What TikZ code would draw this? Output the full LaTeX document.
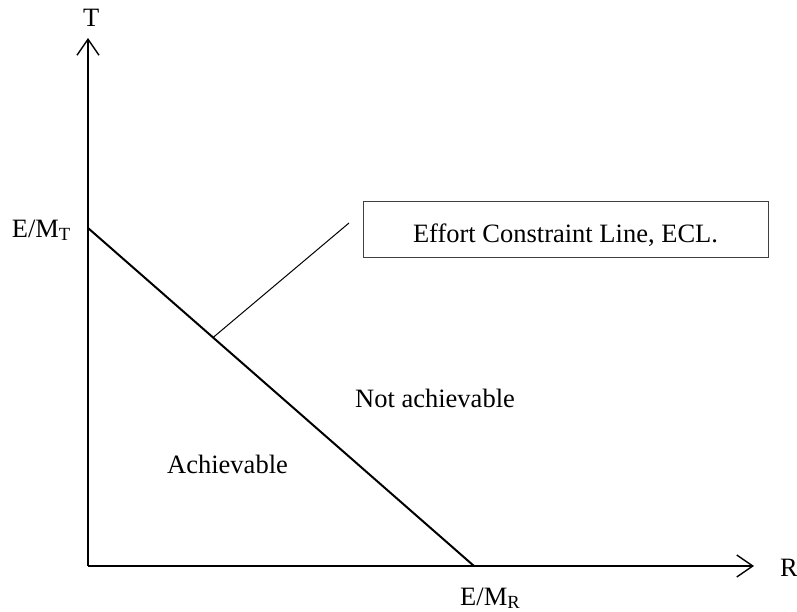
\documentclass[tikz,border=0pt]{standalone}
\usepackage{fontspec}
\setmainfont{Liberation Serif}
\usetikzlibrary{arrows.meta,calc}
\begin{document}
\begin{tikzpicture}[x=1pt,y=-1pt,
  lbl/.style={font=\fontsize{26.5}{30}\selectfont, inner sep=0pt},
  axis/.style={line width=1.6pt, -{Straight Barb[length=16pt,width=22pt,line width=1.4pt]}},
  ecl/.style={line width=2pt},
  leader/.style={line width=1pt},
  box/.style={draw=black!75, line width=1pt, minimum width=405pt, minimum height=55pt, inner sep=0pt, text height=27pt, text depth=0pt, font=\fontsize{26.5}{30}\selectfont}
  ]
\useasboundingbox (0,0) rectangle (797,612);
\coordinate (O) at (88,566);
\coordinate (ytip) at (88,38);
\coordinate (xtip) at (754,566);
\coordinate (A) at (88,228);
\coordinate (B) at (474,566);
\coordinate (L) at ($(A)!0.324!(B)$);
\coordinate (Lend) at (349,223);
\draw[axis] (O) -- (ytip);
\draw[axis] (O) -- (xtip);
\draw[ecl] (A) -- (B);
\node[box, anchor=base] (eclbox) at (565.5,243) {Effort Constraint Line, ECL.};
\draw[leader] (L) -- (Lend);
\node[lbl, anchor=base west] (T) at (83,27) {T};
\node[lbl, anchor=base west] (R) at (780,576) {R};
\node[lbl, anchor=base east] (emt) at (71,237) {E/M\textsubscript{T}};
\node[lbl, anchor=base west] (emr) at (460,605) {E/M\textsubscript{R}};
\node[lbl, anchor=base west] (na) at (355,407) {Not achievable};
\node[lbl, anchor=base west] (ach) at (167,473) {Achievable};
\end{tikzpicture}
\end{document}
